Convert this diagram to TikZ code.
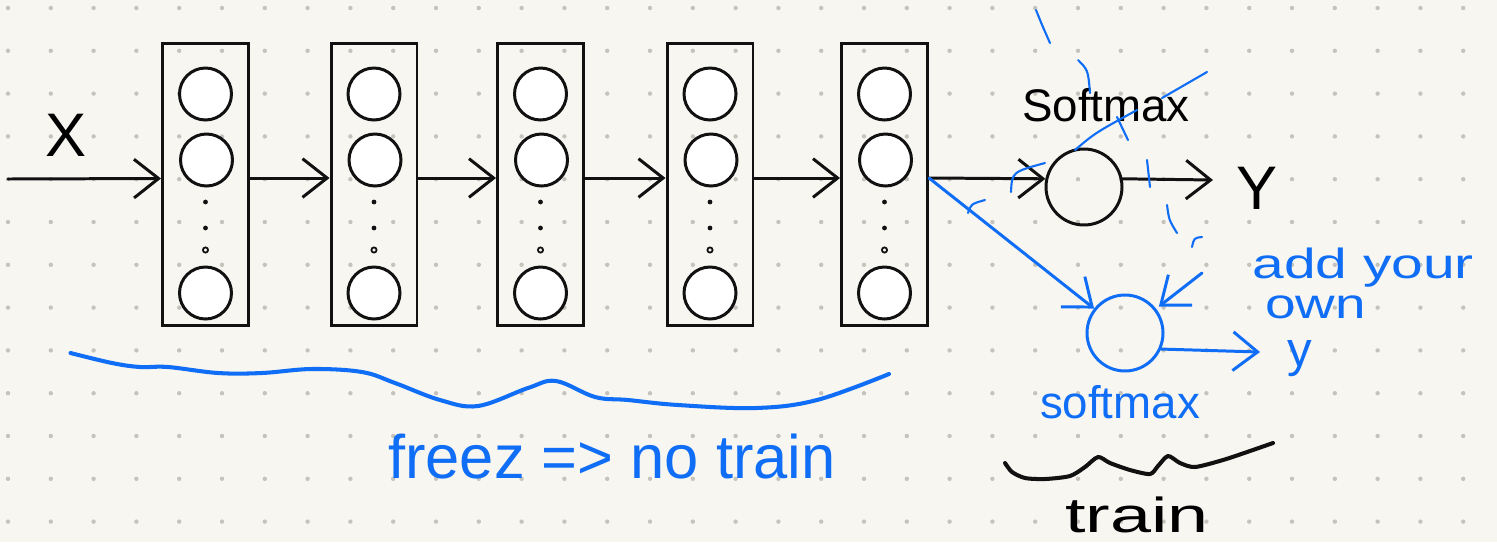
\documentclass[tikz,border=0pt]{standalone}
\usepackage{fontspec}
\setmainfont{Liberation Sans}
\usetikzlibrary{arrows.meta}
\definecolor{paper}{HTML}{F8F6F1}
\definecolor{dotc}{HTML}{C6C3BD}
\definecolor{ink}{HTML}{111111}
\definecolor{pen}{HTML}{0F6EF5}
\tikzset{
  hand/.style={line width=1.7pt, line cap=round, line join=round},
  thin hand/.style={line width=1.2pt, line cap=round, line join=round},
  layerbox/.style={draw=ink, line width=1.7pt, minimum width=1.72cm, minimum height=5.66cm, inner sep=0pt},
  neuron/.style={circle, draw=ink, fill=white, line width=1.7pt, minimum size=1.04cm, inner sep=0pt},
  smnode/.style={circle, draw=ink, line width=1.7pt, minimum size=1.52cm, inner sep=0pt},
  barb/.style={-{Straight Barb[length=14pt,width=22pt]}},
  lbl/.style={inner sep=0pt},
}
\begin{document}
\begin{tikzpicture}[x=0.02cm,y=-0.02cm]
% paper and dot grid
\fill[paper] (0,0) rectangle (1497,542);
\useasboundingbox (0,0) rectangle (1497,542);
\foreach \i in {0,...,34} \foreach \j in {0,...,12} \fill[dotc] (8+42.8*\i,8+42.8*\j) circle (2.2);

% layers
\foreach \k/\xc in {1/205.5,2/374,3/540.5,4/710,5/884.5}{
  \node[layerbox] (L\k) at (\xc,184.5) {};
  \node[neuron] (n\k a) at (\xc,94) {};
  \node[neuron] (n\k b) at (\xc+1,160) {};
  \node[neuron] (n\k c) at (\xc,293) {};
  \fill[ink] (\xc,202) circle (2.4);
  \fill[ink] (\xc,228) circle (2.4);
  \draw[ink,line width=1pt] (\xc,250) circle (2.6);
}

% input and layer arrows
\coordinate (xin) at (8,179);
\draw[hand,ink,barb] (xin) -- ([yshift=0.12cm]L1.west);
\foreach \a/\b in {1/2,2/3,3/4,4/5}
  \draw[hand,ink,barb] ([yshift=0.13cm]L\a.east) -- ([yshift=0.13cm]L\b.west);
\node[lbl,font=\fontsize{35}{40}\selectfont] (xlab) at (66,135) {X};

% original softmax
\node[smnode] (sm) at (1084,187) {};
\draw[hand,ink,barb] ([yshift=0.13cm]L5.east) -- (sm.168);
\coordinate (yout) at (1213,180);
\draw[hand,ink,barb] (sm.12) -- (yout);
\node[lbl,font=\fontsize{35}{40}\selectfont] (ylab) at (1257,188) {Y};
\node[lbl,font=\fontsize{26}{30}\selectfont] (smlab) at (1106,105) {Softmax};

% new softmax
\node[smnode,draw=pen] (sm2) at (1125,333) {};
\draw[hand,pen,barb] ([yshift=0.13cm]L5.east) -- (sm2);
\coordinate (y2out) at (1260,352);
\draw[hand,pen,barb] (sm2.-24) -- (y2out);
\node[lbl,pen,font=\fontsize{28}{32}\selectfont,anchor=base] (y2lab) at (1300,366) {y};
\node[lbl,pen,font=\fontsize{26}{30}\selectfont] (sm2lab) at (1120,402) {softmax};
\node[lbl,pen,font=\fontsize{24}{28}\selectfont,anchor=base west] (addlab) at (1252,278) {\scalebox{1.35}[1]{add your}};
\node[lbl,pen,font=\fontsize{24}{28}\selectfont,anchor=base west] (ownlab) at (1265,318) {\scalebox{1.3}[1]{own}};
\coordinate (ann) at (1202,273);
\draw[hand,pen,barb,shorten >=2pt] (ann) -- (sm2.38);

% stray blue strokes
\begin{scope}[thin hand,pen]
\draw (1036,10) .. controls (1042,25) .. (1050,43);
\draw (1078,60) .. controls (1088,70) .. (1090,93);
\draw (1117,117) -- (1128,140);
\draw (1075,150) .. controls (1095,133) .. (1137,110);
\draw (1162,98) -- (1207,72);
\draw (1011,192) .. controls (1012,172) .. (1045,163);
\draw (1147,160) -- (1150,187);
\draw (1167,205) .. controls (1169,220) .. (1177,233);
\draw (1192,247) .. controls (1194,238) .. (1202,237);
\draw (968,213) .. controls (971,204) .. (985,200);
\end{scope}

% freeze brace
\draw[pen,line width=2.3pt,line cap=round] plot[smooth,tension=0.6] coordinates {(70.5,353) (112,363) (140,367) (168,367) (218,373) (262,373) (312,369) (362,372) (395,383) (440,400) (478,406) (528,388) (556,381) (595,397) (628,400) (678,405) (756,408) (817,400) (889,374)};
\node[lbl,pen,font=\fontsize{35}{40}\selectfont] (freeze) at (612,457) {freez => no train};

% train brace
\draw[ink,line width=2.3pt,line cap=round,line join=round] plot[smooth,tension=0.45] coordinates {(1005,463) (1012,472) (1025,478) (1045,479) (1070,476) (1085,467) (1098,457) (1110,463) (1130,470) (1150,474) (1158,466) (1168,456) (1180,463) (1195,467) (1223,460) (1250,451) (1273,443)};
\node[lbl,font=\fontsize{28}{32}\selectfont,anchor=base] (trainlab) at (1137,532) {\scalebox{1.5}[1]{train}};
\end{tikzpicture}
\end{document}
